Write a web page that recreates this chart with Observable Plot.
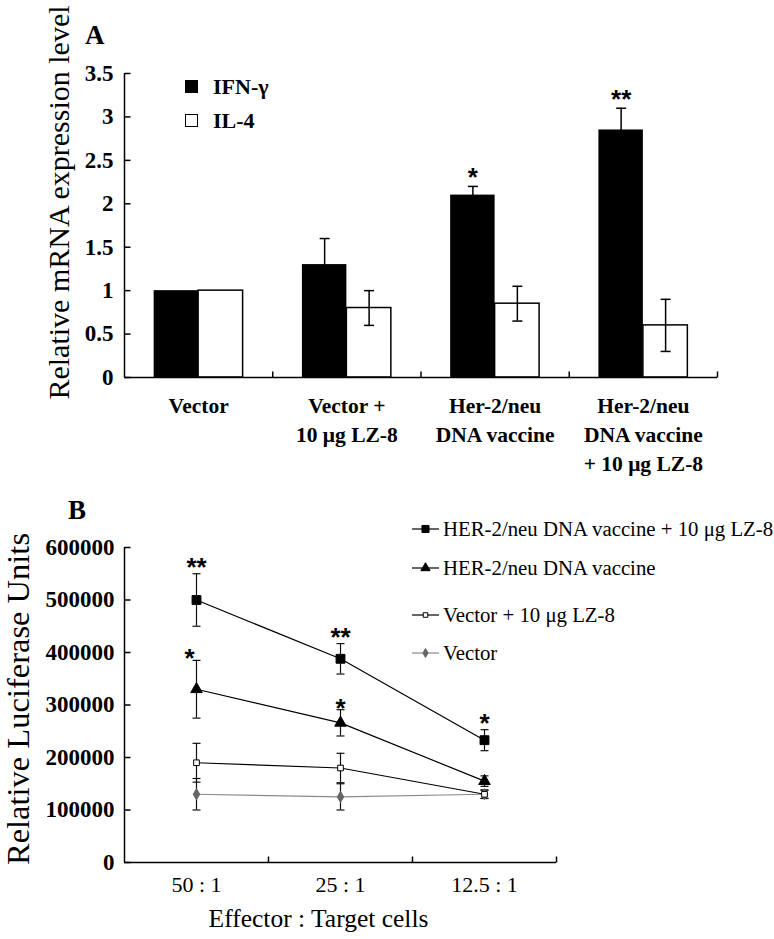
<!DOCTYPE html>
<html><head><meta charset="utf-8">
<script src="https://cdn.jsdelivr.net/npm/d3@7"></script>
<script src="https://cdn.jsdelivr.net/npm/@observablehq/plot@0.6"></script>
<style>
body{margin:0;background:#fff;}
#root{position:relative;width:774px;height:939px;overflow:hidden;background:#fff;font-family:"Liberation Serif","Times New Roman",serif;color:#000;}
#root svg{position:absolute;left:0;}
.abs{position:absolute;white-space:nowrap;line-height:1;}
</style></head>
<body><div id="root"></div>
<script>
// ---------- Panel A data ----------
const groupsA = ["Vector", "Vector + 10 μg LZ-8", "Her-2/neu DNA vaccine", "Her-2/neu DNA vaccine + 10 μg LZ-8"];
const groupTickLabelsA = ["Vector", "Vector +\n10 μg LZ-8", "Her-2/neu\nDNA vaccine", "Her-2/neu\nDNA vaccine\n+ 10 μg LZ-8"];
const seriesA = ["IFN-γ", "IL-4"];
const ifnGamma = [1.0, 1.3, 2.1, 2.85];
const ifnGammaErr = [0, 0.3, 0.1, 0.25];
const il4 = [1.0, 0.8, 0.85, 0.6];
const il4Err = [0, 0.2, 0.2, 0.3];
const yTicksA = [0, 0.5, 1, 1.5, 2, 2.5, 3, 3.5];
const yTickLabelsA = ["0", "0.5", "1", "1.5", "2", "2.5", "3", "3.5"];
const starGroupIdxA = [2, 3];
const starLabelsA = ["*", "**"];

// ---------- Panel B data ----------
const ratiosB = ["50 : 1", "25 : 1", "12.5 : 1"];
const seriesB = ["HER-2/neu DNA vaccine + 10 μg LZ-8", "HER-2/neu DNA vaccine", "Vector + 10 μg LZ-8", "Vector"];
const herLz = [500000, 388000, 233000];
const herLzErr = [50000, 29000, 20000];
const her = [330000, 266000, 155000];
const herErr = [55000, 25000, 10000];
const vecLz = [190000, 180000, 130000];
const vecLzErr = [37000, 28000, 8000];
const vec = [130000, 125000, 130000];
const vecErr = [30000, 25000, 8000];
const yTicksB = [0, 100000, 200000, 300000, 400000, 500000, 600000];
const yTickLabelsB = ["0", "100000", "200000", "300000", "400000", "500000", "600000"];
const starSeriesIdxB = [0, 1, 0, 1, 0];
const starRatioIdxB = [0, 0, 1, 1, 2];
const starLabelsB = ["**", "*", "**", "*", "*"];

// ---------- helpers ----------
const W = 774;
const serif = "'Liberation Serif','Times New Roman',serif";
const sans = "'Liberation Sans',Arial,sans-serif";
const tickUp = {draw(ctx) { ctx.moveTo(0, 0); ctx.lineTo(0, -6); }};
const tickRight = {draw(ctx) { ctx.moveTo(0, 0); ctx.lineTo(6, 0); }};
const capA = {draw(ctx) { ctx.moveTo(-5, 0); ctx.lineTo(5, 0); }};
const capB = {draw(ctx) { ctx.moveTo(-4, 0); ctx.lineTo(4, 0); }};
const root = document.getElementById("root");

// ---------- Panel A ----------
const LA = {left: 124, right: 717, top: 73, zero: 377, height: 480};
const stepA = (LA.right - LA.left) / groupsA.length;
const halfBar = stepA * 0.3 / 2;
const ifnRows = groupsA.map((g, i) => ({group: g, value: ifnGamma[i], err: ifnGammaErr[i]}));
const il4Rows = groupsA.map((g, i) => ({group: g, value: il4[i], err: il4Err[i]}));
const starRowsA = starGroupIdxA.map((gi, k) => ({group: groupsA[gi], y: ifnGamma[gi] + ifnGammaErr[gi], label: starLabelsA[k]}));
const tickLabelMapA = new Map(groupsA.map((g, i) => [g, groupTickLabelsA[i]]));

const plotA = Plot.plot({
  width: W, height: LA.height,
  marginLeft: LA.left, marginRight: W - LA.right, marginTop: LA.top, marginBottom: LA.height - LA.zero,
  style: {fontFamily: serif, background: "white", color: "black", overflow: "visible"},
  x: {type: "band", domain: groupsA, paddingInner: 0.7, paddingOuter: 0.35, round: false, axis: null},
  y: {domain: [0, 3.5], axis: null},
  marks: [
    Plot.barY(ifnRows, {x: "group", y: "value", dx: -halfBar, fill: "black"}),
    Plot.barY(il4Rows, {x: "group", y: "value", dx: halfBar, fill: "white", stroke: "black", strokeWidth: 1.5}),
    Plot.ruleX(ifnRows.filter(d => d.err > 0), {x: "group", y1: d => d.value - d.err, y2: d => d.value + d.err, dx: -halfBar, stroke: "black", strokeWidth: 1.5}),
    Plot.dot(ifnRows.filter(d => d.err > 0), {x: "group", y: d => d.value + d.err, dx: -halfBar, symbol: capA, fill: "none", stroke: "black", strokeWidth: 1.5}),
    Plot.ruleX(il4Rows.filter(d => d.err > 0), {x: "group", y1: d => d.value - d.err, y2: d => d.value + d.err, dx: halfBar, stroke: "black", strokeWidth: 1.5}),
    Plot.dot(il4Rows.filter(d => d.err > 0), {x: "group", y: d => d.value + d.err, dx: halfBar, symbol: capA, fill: "none", stroke: "black", strokeWidth: 1.5}),
    Plot.dot(il4Rows.filter(d => d.err > 0), {x: "group", y: d => d.value - d.err, dx: halfBar, symbol: capA, fill: "none", stroke: "black", strokeWidth: 1.5}),
    Plot.ruleY([0], {stroke: "black", strokeWidth: 1.5}),
    Plot.ruleX([groupsA[0]], {x: d => d, dx: -stepA / 2, y1: 0, y2: 3.5, stroke: "black", strokeWidth: 1.5}),
    Plot.dot(groupsA, {x: d => d, y: d => 0, dx: stepA / 2, symbol: tickUp, fill: "none", stroke: "black", strokeWidth: 1.5}),
    Plot.dot(yTicksA, {y: d => d, frameAnchor: "left", symbol: tickRight, fill: "none", stroke: "black", strokeWidth: 1.5}),
    Plot.axisY({ticks: yTicksA, tickFormat: d => yTickLabelsA[yTicksA.indexOf(d)], tickSize: 0, tickPadding: 11, fontSize: 23, fontWeight: "bold", label: null}),
    Plot.axisX({tickSize: 0, tickPadding: 15, tickFormat: d => tickLabelMapA.get(d), fontSize: 21.5, fontWeight: "bold", lineHeight: 1.35, label: null}),
    Plot.text(starRowsA, {x: "group", y: "y", text: "label", dx: -halfBar, dy: -9, fontFamily: sans, fontWeight: "bold", fontSize: 26}),
    Plot.text(["Relative mRNA expression level"], {text: d => d, frameAnchor: "left", textAnchor: "middle", rotate: -90, dx: -65, dy: -23, fontSize: 30})
  ]
});
plotA.style.top = "0px";
root.appendChild(plotA);

// Legend A
function addDiv(html, style) {
  const d = document.createElement("div");
  d.className = "abs";
  d.innerHTML = html;
  Object.assign(d.style, style);
  root.appendChild(d);
  return d;
}
addDiv("A", {left: "85px", top: "22px", fontSize: "27px", fontWeight: "bold"});
addDiv("", {left: "185px", top: "80px", width: "13px", height: "13px", background: "#000"});
addDiv("", {left: "185px", top: "114px", width: "11px", height: "11px", background: "#fff", border: "1px solid #000"});
addDiv(seriesA[0], {left: "213px", top: "76px", fontSize: "22px", fontWeight: "bold"});
addDiv(seriesA[1], {left: "213px", top: "110px", fontSize: "22px", fontWeight: "bold"});

// ---------- Panel B ----------
const LB = {left: 124, right: 556, top: 67, zero: 382, height: 459, offset: 480};
const stepB = (LB.right - LB.left) / ratiosB.length;
const valuesB = [herLz, her, vecLz, vec];
const errorsB = [herLzErr, herErr, vecLzErr, vecErr];
const rowsB = seriesB.map((s, si) => ratiosB.map((r, ri) => ({series: s, ratio: r, value: valuesB[si][ri], err: errorsB[si][ri]})));
const styleB = [
  {line: "#000", symbol: "square", r: 5, fill: "#000", stroke: "#000"},
  {line: "#000", symbol: "triangle", r: 4.3, fill: "#000", stroke: "#000"},
  {line: "#000", symbol: "square", r: 3.2, fill: "#fff", stroke: "#000"},
  {line: "#8a8a8a", symbol: "diamond", r: 3.4, fill: "#666", stroke: "#666"}
];
const starRowsB = starLabelsB.map((l, k) => {
  const si = starSeriesIdxB[k], ri = starRatioIdxB[k];
  return {ratio: ratiosB[ri], y: valuesB[si][ri] + errorsB[si][ri], label: l, si, ri};
});
const order = [3, 2, 1, 0];
const marksB = [
  Plot.ruleY([0], {stroke: "black", strokeWidth: 1.5}),
  Plot.ruleX([ratiosB[0]], {x: d => d, dx: -stepB / 2, y1: 0, y2: 600000, stroke: "black", strokeWidth: 1.5}),
  Plot.dot(ratiosB, {x: d => d, y: d => 0, dx: stepB / 2, symbol: tickUp, fill: "none", stroke: "black", strokeWidth: 1.5}),
  Plot.dot(yTicksB, {y: d => d, frameAnchor: "left", symbol: tickRight, fill: "none", stroke: "black", strokeWidth: 1.5}),
  Plot.axisY({ticks: yTicksB, tickFormat: d => yTickLabelsB[yTicksB.indexOf(d)], tickSize: 0, tickPadding: 10, fontSize: 23, fontWeight: "bold", label: null}),
  Plot.axisX({tickSize: 0, tickPadding: 14, fontSize: 22, label: null}),
];
for (const si of order) {
  marksB.push(Plot.line(rowsB[si], {x: "ratio", y: "value", stroke: styleB[si].line, strokeWidth: 1.2}));
}
for (const si of order) {
  marksB.push(
    Plot.ruleX(rowsB[si], {x: "ratio", y1: d => d.value - d.err, y2: d => d.value + d.err, stroke: "#111", strokeWidth: 1.2}),
    Plot.dot(rowsB[si], {x: "ratio", y: d => d.value + d.err, symbol: capB, fill: "none", stroke: "#111", strokeWidth: 1.2}),
    Plot.dot(rowsB[si], {x: "ratio", y: d => d.value - d.err, symbol: capB, fill: "none", stroke: "#111", strokeWidth: 1.2})
  );
}
for (const si of order) {
  const st = styleB[si];
  marksB.push(Plot.dot(rowsB[si], {x: "ratio", y: "value", symbol: st.symbol, r: st.r, fill: st.fill, stroke: st.stroke, strokeWidth: 1}));
}
marksB.push(
  Plot.text(starRowsB.filter(d => d.si === 0), {x: "ratio", y: "y", text: "label", dy: -6, fontFamily: sans, fontWeight: "bold", fontSize: 26}),
  Plot.text(starRowsB.filter(d => d.si === 1 && d.ri > 0), {x: "ratio", y: "y", text: "label", dy: -1, fontFamily: sans, fontWeight: "bold", fontSize: 26}),
  Plot.text(starRowsB.filter(d => d.si === 1 && d.ri === 0), {x: "ratio", y: "y", text: "label", dx: -7, dy: -2, fontFamily: sans, fontWeight: "bold", fontSize: 26}),
  Plot.text(["Relative Luciferase Units"], {text: d => d, frameAnchor: "left", textAnchor: "middle", rotate: -90, dx: -106, dy: -6, fontSize: 32.5}),
  Plot.text(["Effector : Target cells"], {text: d => d, frameAnchor: "bottom", dx: -22, dy: 64, fontSize: 25.5})
);
const plotB = Plot.plot({
  width: W, height: LB.height,
  marginLeft: LB.left, marginRight: W - LB.right, marginTop: LB.top, marginBottom: LB.height - LB.zero,
  style: {fontFamily: serif, background: "transparent", color: "black", overflow: "visible"},
  x: {type: "point", domain: ratiosB, padding: 0.5, axis: null},
  y: {domain: [0, 600000], axis: null},
  marks: marksB
});
plotB.style.top = LB.offset + "px";
root.appendChild(plotB);

addDiv("B", {left: "68px", top: "497px", fontSize: "27px", fontWeight: "bold"});

// Legend B
const legendRowsY = [529, 568, 615, 653];
seriesB.forEach((s, si) => {
  const st = styleB[si];
  const row = addDiv("", {left: "412px", top: (legendRowsY[si] - 11) + "px", height: "22px", display: "flex", alignItems: "center"});
  const svg = d3.create("svg").attr("width", 28).attr("height", 22).style("position", "static");
  svg.append("line").attr("x1", 0).attr("x2", 27).attr("y1", 11).attr("y2", 11).attr("stroke", st.line).attr("stroke-width", 1.2);
  const symType = {square: d3.symbolSquare, triangle: d3.symbolTriangle, diamond: d3.symbolDiamond}[st.symbol];
  const sz = Math.PI * Math.pow(st.r * 0.8, 2);
  svg.append("path").attr("transform", "translate(13.5,11)").attr("d", d3.symbol(symType, sz)()).attr("fill", st.fill).attr("stroke", st.stroke).attr("stroke-width", 1);
  row.appendChild(svg.node());
  const t = document.createElement("span");
  t.textContent = s;
  Object.assign(t.style, {fontSize: "20.8px", marginLeft: "3px", lineHeight: "22px"});
  row.appendChild(t);
});
</script>
</body></html>
